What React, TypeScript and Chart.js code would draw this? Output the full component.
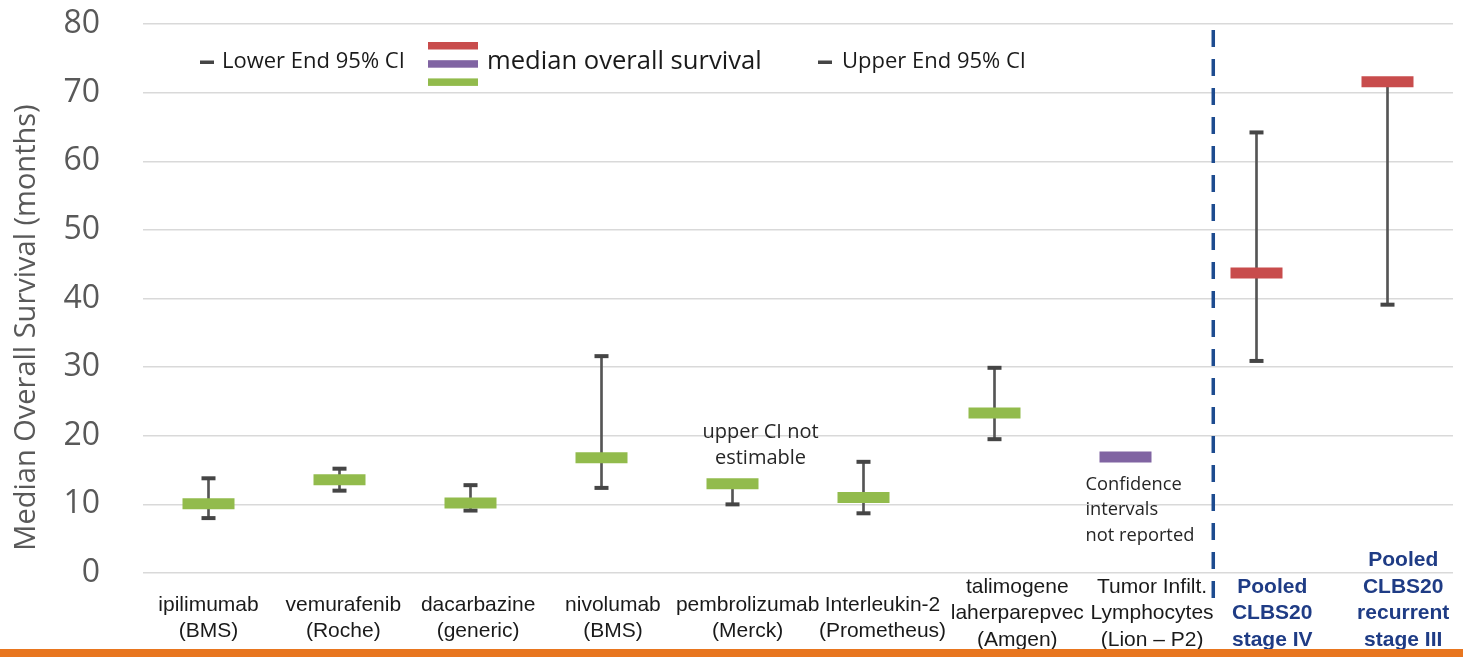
import React, { useEffect, useRef } from 'react';
import { Chart, registerables } from 'chart.js';

Chart.register(...registerables);

// ---------- data ----------
const categories: string[][] = [
  ['ipilimumab', '(BMS)'],
  ['vemurafenib', '(Roche)'],
  ['dacarbazine', '(generic)'],
  ['nivolumab', '(BMS)'],
  ['pembrolizumab', '(Merck)'],
  ['Interleukin-2', '(Prometheus)'],
  ['talimogene', 'laherparepvec', '(Amgen)'],
  ['Tumor Infilt.', 'Lymphocytes', '(Lion – P2)'],
  ['Pooled', 'CLBS20', 'stage IV'],
  ['Pooled', 'CLBS20', 'recurrent', 'stage III'],
];
const medianOS: (number | null)[] = [10.1, 13.6, 10.2, 16.8, 13.0, 11.0, 23.3, 16.9, 43.7, 71.6];
const ciLower: (number | null)[] = [8.0, 12.0, 9.1, 12.4, 10.0, 8.7, 19.5, null, 30.9, 39.1];
const ciUpper: (number | null)[] = [13.8, 15.2, 12.8, 31.6, null, 16.2, 29.9, null, 64.2, null];
const groups: string[] = ['comparator', 'comparator', 'comparator', 'comparator', 'comparator', 'comparator', 'comparator', 'noCI', 'pooled', 'pooled'];
const yTickValues: number[] = [0, 10, 20, 30, 40, 50, 60, 70, 80];
const dividerAfter = 7.67; // category-axis position of the dashed separator

const legendLower = 'Lower End 95% CI';
const legendMedian = 'median overall survival';
const legendUpper = 'Upper End 95% CI';
const yTitle = 'Median Overall Survival (months)';
const noteUpper = ['upper CI not', 'estimable'];
const noteNoCI = ['Confidence', 'intervals', 'not reported'];

// ---------- styles ----------
const GREEN = '#92bb4c';
const PURPLE = '#8064a2';
const RED = '#c84c4c';
const CAP = '#454545';
const WHISKER = '#555555';
const NAVY = '#1f3c85';
const DASH = '#1d4b8f';
const ORANGE = '#e8761f';
const groupColor: Record<string, string> = { comparator: GREEN, noCI: PURPLE, pooled: RED };
const LABEL_PITCH = 1.029; // label text boxes are spread slightly wider than the categories
const POOLED_LABEL_SHIFT = 0.12;

const whiskers = medianOS.map((m, i) => {
  const lo = ciLower[i] ?? m;
  const hi = ciUpper[i] ?? m;
  if (ciLower[i] == null && ciUpper[i] == null) return null;
  return [lo, hi] as [number, number];
});

const overlayPlugin = {
  id: 'overlay',
  afterDraw(chart: any) {
    const { ctx, chartArea } = chart;
    const xs = chart.scales.x;
    const ys = chart.scales.y;
    ctx.save();

    // y-axis title
    ctx.save();
    ctx.translate(27, (chartArea.top + chartArea.bottom) / 2 + 29);
    ctx.rotate(-Math.PI / 2);
    ctx.font = '29px "Open Sans"';
    ctx.fillStyle = '#595959';
    ctx.textAlign = 'center';
    ctx.textBaseline = 'middle';
    ctx.fillText(yTitle, 0, 0);
    ctx.restore();

    // category labels
    ctx.textAlign = 'center';
    ctx.textBaseline = 'middle';
    const lh = 26.5;
    categories.forEach((lines, i) => {
      const pooled = groups[i] === 'pooled';
      const px = xs.getPixelForValue(pooled ? i + POOLED_LABEL_SHIFT : i * LABEL_PITCH);
      ctx.font = pooled ? 'bold 21px "Liberation Sans"' : '21px "Liberation Sans"';
      ctx.fillStyle = pooled ? NAVY : '#1a1a1a';
      const center = chartArea.bottom + 45;
      let first = center - ((lines.length - 1) * lh) / 2;
      const last = first + (lines.length - 1) * lh;
      const maxLast = chartArea.bottom + 67;
      if (last > maxLast) first -= last - maxLast;
      lines.forEach((t, j) => ctx.fillText(t, px, first + j * lh));
    });

    // dashed divider
    const dx = xs.getPixelForValue(dividerAfter);
    ctx.setLineDash([17, 12]);
    ctx.lineWidth = 3.5;
    ctx.strokeStyle = DASH;
    ctx.beginPath();
    ctx.moveTo(dx, chartArea.top + 6);
    ctx.lineTo(dx, chartArea.bottom + 30);
    ctx.stroke();
    ctx.setLineDash([]);

    // notes
    ctx.fillStyle = '#262626';
    ctx.font = '20px "Open Sans"';
    ctx.textAlign = 'center';
    const n1x = xs.getPixelForValue(4) + 28;
    const n1y = ys.getPixelForValue(20.55);
    noteUpper.forEach((t, j) => ctx.fillText(t, n1x, n1y + j * 26.5));
    ctx.font = '18.3px "Open Sans"';
    ctx.textAlign = 'left';
    const n2x = xs.getPixelForValue(7) - 40;
    const n2y = ys.getPixelForValue(12.9);
    noteNoCI.forEach((t, j) => ctx.fillText(t, n2x, n2y + j * 25.5));

    // legend
    const ly = 62;
    ctx.fillStyle = CAP;
    ctx.fillRect(200, ly - 1.5, 14, 3.5);
    ctx.fillRect(818, ly - 1.5, 14, 3.5);
    ctx.fillStyle = '#1a1a1a';
    ctx.font = '22px "Open Sans"';
    ctx.textAlign = 'left';
    ctx.fillText(legendLower, 222, ly);
    ctx.fillText(legendUpper, 842, ly);
    ctx.font = '25.6px "Open Sans"';
    ctx.fillText(legendMedian, 487, ly);
    [RED, PURPLE, GREEN].forEach((c, j) => {
      ctx.fillStyle = c;
      ctx.fillRect(428, 42 + j * 18.2, 50, 7.5);
    });

    // bottom orange band
    ctx.fillStyle = ORANGE;
    ctx.fillRect(0, 649, chart.width, 8);
    ctx.restore();
  },
};

const clearPadding = (s: any) => {
  s.paddingTop = 0;
  s.paddingBottom = 0;
  s.paddingLeft = 0;
  s.paddingRight = 0;
};

export default function App() {
  const canvasRef = useRef<HTMLCanvasElement | null>(null);

  useEffect(() => {
    if (!canvasRef.current) return;
    const labels = categories.map((c) => c.join(' '));
    const chart = new Chart(canvasRef.current, {
      type: 'bar',
      data: {
        labels,
        datasets: [
          {
            type: 'bar',
            label: '95% CI',
            data: whiskers as any,
            backgroundColor: WHISKER,
            borderWidth: 0,
            barThickness: 2,
            order: 3,
          },
          {
            type: 'line',
            label: legendLower,
            data: ciLower,
            showLine: false,
            pointStyle: 'line',
            pointRadius: 7,
            pointBorderWidth: 4,
            pointBorderColor: CAP,
            pointBackgroundColor: CAP,
            order: 2,
          },
          {
            type: 'line',
            label: legendUpper,
            data: ciUpper,
            showLine: false,
            pointStyle: 'line',
            pointRadius: 7,
            pointBorderWidth: 4,
            pointBorderColor: CAP,
            pointBackgroundColor: CAP,
            order: 2,
          },
          {
            type: 'line',
            label: legendMedian,
            data: medianOS,
            showLine: false,
            pointStyle: 'line',
            pointRadius: 26,
            pointBorderWidth: 11,
            pointBorderColor: groups.map((g) => groupColor[g]),
            pointBackgroundColor: groups.map((g) => groupColor[g]),
            order: 1,
          },
        ] as any,
      },
      options: {
        responsive: false,
        animation: false,
        devicePixelRatio: 1,
        layout: { autoPadding: false, padding: { top: 24, right: 10, left: 0, bottom: 0 } },
        plugins: {
          legend: { display: false },
          tooltip: { enabled: false },
        },
        scales: {
          x: {
            type: 'category',
            offset: true,
            grid: { display: false },
            border: { display: false },
            ticks: { display: false },
            afterFit: (s: any) => {
              s.height = 84;
              clearPadding(s);
            },
          },
          y: {
            min: 0,
            max: 80,
            afterBuildTicks: (s: any) => {
              s.ticks = yTickValues.map((v) => ({ value: v }));
            },
            grid: { color: '#d9d9d9', lineWidth: 1.5, drawTicks: false },
            border: { display: false },
            ticks: {
              padding: 43,
              color: '#595959',
              font: { family: '"Open Sans"', size: 32 },
            },
            afterFit: (s: any) => {
              s.width = 143;
              clearPadding(s);
            },
          },
        },
      } as any,
      plugins: [overlayPlugin],
    });
    return () => chart.destroy();
  }, []);

  return (
    <div style={{ position: 'absolute', left: 0, top: 0, width: 1463, height: 657, background: '#fff' }}>
      <canvas ref={canvasRef} width={1463} height={657} style={{ display: 'block' }} />
    </div>
  );
}
